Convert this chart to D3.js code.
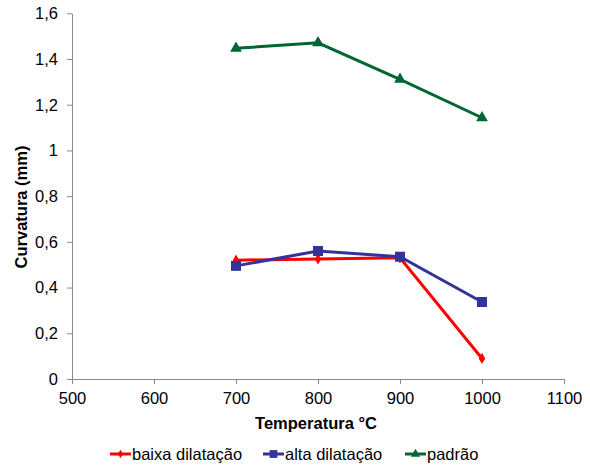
<!DOCTYPE html>
<html><head><meta charset="utf-8">
<script src="https://cdn.jsdelivr.net/npm/d3@7"></script>
<style>body{margin:0;background:#fff;} text{font-family:"Liberation Sans",Arial,sans-serif;}</style>
</head><body>
<svg id="c" width="590" height="466"></svg>
<script>
const temps = [700, 800, 900, 1000];
const baixa = [0.52, 0.525, 0.53, 0.09];
const alta = [0.495, 0.56, 0.535, 0.337];
const padrao = [1.447, 1.471, 1.311, 1.143];
const seriesNames = ["baixa dilatação", "alta dilatação", "padrão"];
const xTicks = [500, 600, 700, 800, 900, 1000, 1100];
const yTicks = [0, 0.2, 0.4, 0.6, 0.8, 1, 1.2, 1.4, 1.6];

const svg = d3.select("#c");
const x = d3.scaleLinear().domain([500, 1100]).range([72, 564]);
const y = d3.scaleLinear().domain([0, 1.6]).range([379, 13.3]);
const fmt = d => String(d).replace(".", ",");
const axisColor = "#898989";
const FS = "16.5px";

const gx = svg.append("g").attr("transform", `translate(0,${y(0)})`)
  .call(d3.axisBottom(x).tickValues(xTicks).tickFormat(d => String(d)).tickSize(5).tickSizeOuter(0).tickPadding(8));
const gy = svg.append("g").attr("transform", `translate(${x(500)},0)`)
  .call(d3.axisLeft(y).tickValues(yTicks).tickFormat(fmt).tickSize(5).tickSizeOuter(0).tickPadding(9));
[gx, gy].forEach(g => {
  g.select(".domain").attr("stroke", axisColor).attr("stroke-width", 1);
  g.selectAll(".tick line").attr("stroke", axisColor);
  g.selectAll(".tick text").attr("fill", "#000").style("font-size", FS)
    .style("font-family", '"Liberation Sans",Arial,sans-serif');
});

svg.append("text").attr("x", 316).attr("y", 429).attr("text-anchor", "middle")
  .style("font-size", "16.5px").style("font-weight", "bold").text("Temperatura °C");
svg.append("text").attr("transform", "translate(27,207) rotate(-90)").attr("text-anchor", "middle")
  .style("font-size", "16.5px").style("font-weight", "bold").text("Curvatura (mm)");

const series = [
  {name: seriesNames[0], vals: baixa, color: "#FF0000", sym: d3.symbolDiamond, size: 36},
  {name: seriesNames[1], vals: alta, color: "#333399", sym: d3.symbolSquare, size: 100},
  {name: seriesNames[2], vals: padrao, color: "#006633", sym: d3.symbolTriangle, size: 60}
];
const line = d3.line().x((d, i) => x(temps[i])).y(d => y(d));
series.forEach(s => {
  svg.append("path").datum(s.vals).attr("d", line).attr("fill", "none")
    .attr("stroke", s.color).attr("stroke-width", 3);
  svg.selectAll(null).data(s.vals).enter().append("path")
    .attr("d", d3.symbol().type(s.sym).size(s.size))
    .attr("transform", (d, i) => `translate(${x(temps[i])},${y(d)})`)
    .attr("fill", s.color);
});

const legX = [110, 263, 405];
series.forEach((s, i) => {
  const g = svg.append("g").attr("transform", `translate(${legX[i]},454)`);
  g.append("line").attr("x1", 0).attr("x2", 21).attr("stroke", s.color).attr("stroke-width", 3);
  g.append("path").attr("d", d3.symbol().type(s.sym).size(s.size * 0.6)).attr("transform", "translate(10.5,0)").attr("fill", s.color);
  g.append("text").attr("x", 22).attr("y", 6).style("font-size", FS).text(s.name);
});
</script>
</body></html>
